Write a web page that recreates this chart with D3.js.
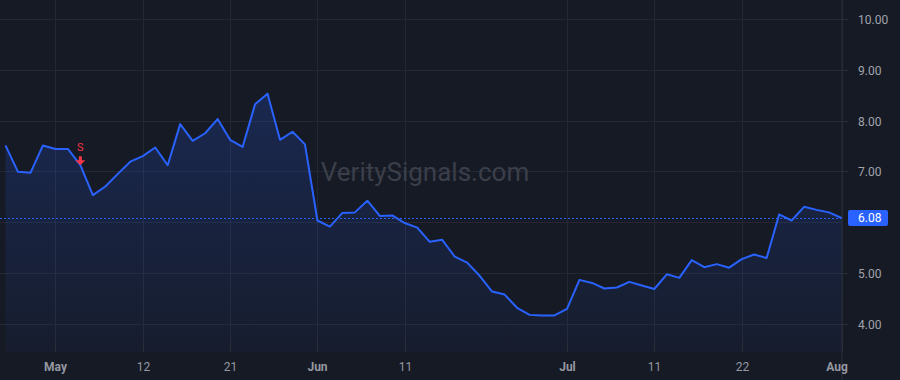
<!DOCTYPE html>
<html>
<head>
<meta charset="utf-8">
<script src="https://cdn.jsdelivr.net/npm/d3@7"></script>
<style>
  html, body { margin: 0; padding: 0; background: #161a25; }
  svg { display: block; }
</style>
</head>
<body>
<script>
// trading days shown on the chart
var dates = [
  "2025-04-25","2025-04-28","2025-04-29","2025-04-30",
  "2025-05-01","2025-05-02","2025-05-05","2025-05-06","2025-05-07","2025-05-08","2025-05-09",
  "2025-05-12","2025-05-13","2025-05-14","2025-05-15","2025-05-16",
  "2025-05-19","2025-05-20","2025-05-21","2025-05-22","2025-05-23",
  "2025-05-27","2025-05-28","2025-05-29","2025-05-30",
  "2025-06-02","2025-06-03","2025-06-04","2025-06-05","2025-06-06",
  "2025-06-09","2025-06-10","2025-06-11","2025-06-12","2025-06-13",
  "2025-06-16","2025-06-17","2025-06-18","2025-06-20",
  "2025-06-23","2025-06-24","2025-06-25","2025-06-26","2025-06-27","2025-06-30",
  "2025-07-01","2025-07-02","2025-07-03","2025-07-07","2025-07-08","2025-07-09","2025-07-10","2025-07-11",
  "2025-07-14","2025-07-15","2025-07-16","2025-07-17","2025-07-18",
  "2025-07-21","2025-07-22","2025-07-23","2025-07-24","2025-07-25",
  "2025-07-28","2025-07-29","2025-07-30","2025-07-31","2025-08-01"
];
var closes = [
  7.51, 6.99, 6.97, 7.51,
  7.44, 7.44, 7.12, 6.53, 6.70, 6.95, 7.19,
  7.30, 7.47, 7.12, 7.93, 7.60,
  7.75, 8.03, 7.62, 7.48, 8.32,
  8.53, 7.62, 7.78, 7.53,
  6.03, 5.91, 6.18, 6.19, 6.42,
  6.12, 6.13, 5.98, 5.89, 5.61,
  5.65, 5.32, 5.20, 4.94,
  4.63, 4.57, 4.31, 4.17, 4.16, 4.16,
  4.29, 4.86, 4.80, 4.69, 4.71, 4.82, 4.75, 4.68,
  4.97, 4.90, 5.25, 5.11, 5.17,
  5.10, 5.27, 5.36, 5.29, 6.15,
  6.03, 6.30, 6.24, 6.19, 6.08
];
var tickDates = ["2025-05-01","2025-05-12","2025-05-21","2025-06-02","2025-06-11","2025-07-01","2025-07-11","2025-07-22","2025-08-01"];
var tickLabels = ["May","12","21","Jun","11","Jul","11","22","Aug"];
var monthTicks = ["May","Jun","Jul","Aug"];
var priceTicks = [4, 5, 6, 7, 8, 9, 10];
var lastPrice = 6.08;
var signalDates = ["2025-05-05"];
var signalLabels = ["S"];

var W = 900, H = 380,
    plotRight = 841.5,
    plotBottom = 352;

var data = dates.map(function(d, i) { return {date: d, close: closes[i]}; });

var x = d3.scalePoint().domain(dates).range([5.5, plotRight]);
var y = d3.scaleLinear().domain([4, 10]).range([323.5, 19.1]);

var svg = d3.select("body").append("svg")
    .attr("width", W)
    .attr("height", H)
    .style("font-family", "Roboto, 'Noto Sans', sans-serif");

svg.append("rect").attr("width", W).attr("height", H).attr("fill", "#161a25");

var defs = svg.append("defs");
var grad = defs.append("linearGradient")
    .attr("id", "areaGrad")
    .attr("x1", 0).attr("y1", 0).attr("x2", 0).attr("y2", 1);
grad.append("stop").attr("offset", "0%").attr("stop-color", "#2962ff").attr("stop-opacity", 0.2);
grad.append("stop").attr("offset", "100%").attr("stop-color", "#2962ff").attr("stop-opacity", 0.04);

// grid
svg.append("g")
  .selectAll("line")
  .data(priceTicks)
  .join("line")
    .attr("x1", 0).attr("x2", plotRight)
    .attr("y1", function(d) { return Math.round(y(d)) + 0.5; })
    .attr("y2", function(d) { return Math.round(y(d)) + 0.5; })
    .attr("stroke", "#242834");

svg.append("g")
  .selectAll("line")
  .data(tickDates)
  .join("line")
    .attr("x1", function(d) { return Math.round(x(d)) + 0.5; })
    .attr("x2", function(d) { return Math.round(x(d)) + 0.5; })
    .attr("y1", 0).attr("y2", plotBottom)
    .attr("stroke", "#242834");

// price axis border
svg.append("line")
    .attr("x1", plotRight + 0.5).attr("x2", plotRight + 0.5)
    .attr("y1", 0).attr("y2", H)
    .attr("stroke", "#2a2e39");

// area + line
var area = d3.area()
    .x(function(d) { return x(d.date); })
    .y0(plotBottom)
    .y1(function(d) { return y(d.close); });

var line = d3.line()
    .x(function(d) { return x(d.date); })
    .y(function(d) { return y(d.close); });

svg.append("path")
    .datum(data)
    .attr("d", area)
    .attr("fill", "url(#areaGrad)");

// watermark
svg.append("text")
    .attr("x", 425).attr("y", 181)
    .attr("text-anchor", "middle")
    .attr("font-size", 26)
    .attr("fill", "#3b3f4a")
    .text("VeritySignals.com");

// last price line
svg.append("line")
    .attr("x1", 0).attr("x2", plotRight)
    .attr("y1", Math.round(y(lastPrice)) + 0.5)
    .attr("y2", Math.round(y(lastPrice)) + 0.5)
    .attr("stroke", "#2962ff")
    .attr("stroke-dasharray", "2,2");

svg.append("path")
    .datum(data)
    .attr("d", line)
    .attr("fill", "none")
    .attr("stroke", "#2962ff")
    .attr("stroke-width", 2)
    .attr("stroke-linejoin", "round");

// sell signal
signalDates.forEach(function(d, i) {
  var v = closes[dates.indexOf(d)];
  var sx = x(d), sy = y(v);
  var g = svg.append("g").attr("fill", "#f23645");
  g.append("path")
      .attr("d", "M" + (sx - 1.5) + "," + (sy - 9) + "h3v4h3.5l-5,5l-5,-5h3.5z");
  g.append("text")
      .attr("x", sx).attr("y", sy - 14)
      .attr("text-anchor", "middle")
      .attr("font-size", 11)
      .text(signalLabels[i]);
});

// price axis
var yAx = svg.append("g");
priceTicks.filter(function(d) { return Math.abs(y(d) - y(lastPrice)) > 12; }).forEach(function(d) {
  var py = Math.round(y(d)) + 0.5;
  yAx.append("line")
      .attr("x1", plotRight).attr("x2", plotRight + 6)
      .attr("y1", py).attr("y2", py)
      .attr("stroke", "#2a2e39");
  yAx.append("text")
      .attr("x", 858).attr("y", py + 4)
      .attr("font-size", 12)
      .attr("fill", "#a0a3ab")
      .text(d3.format(".2f")(d));
});

var ly = y(lastPrice);
svg.append("rect")
    .attr("x", 848).attr("y", ly - 8)
    .attr("width", 40).attr("height", 16)
    .attr("rx", 2)
    .attr("fill", "#2962ff");
svg.append("text")
    .attr("x", 858).attr("y", ly + 4.5)
    .attr("font-size", 12)
    .attr("fill", "#ffffff")
    .text(d3.format(".2f")(lastPrice));

// time axis
var xAx = svg.append("g");
tickDates.forEach(function(d, i) {
  var tx = Math.round(x(d)) + 0.5;
  xAx.append("line")
      .attr("x1", tx).attr("x2", tx)
      .attr("y1", plotBottom - 12).attr("y2", plotBottom)
      .attr("stroke", "#2a2e39");
  var t = xAx.append("text")
      .attr("x", tx).attr("y", 371)
      .attr("text-anchor", "middle")
      .attr("font-size", 12)
      .attr("font-weight", monthTicks.indexOf(tickLabels[i]) >= 0 ? "bold" : "normal")
      .attr("fill", "#9598a1")
      .text(tickLabels[i]);
  var bb = t.node().getBBox();
  if (bb.x + bb.width > 848) t.attr("x", tx - (bb.x + bb.width - 848));
});
</script>
</body>
</html>
